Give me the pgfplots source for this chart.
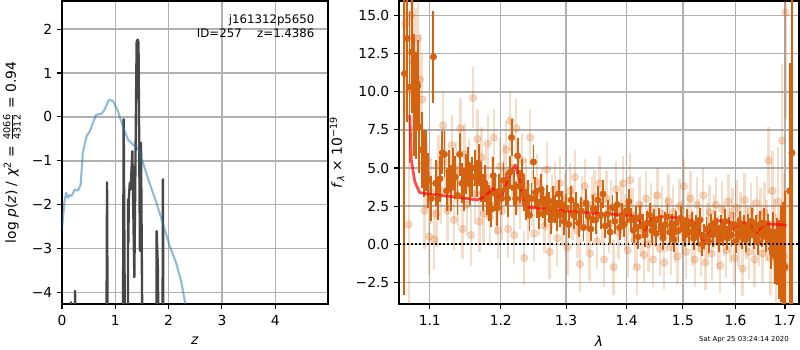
\documentclass[border=0pt]{standalone}
\usepackage{amsmath}
\usepackage{fontspec}
\setmainfont{DejaVu Sans}
\usepackage{pgfplots}
\usepackage{pgfplotstable}
\pgfplotsset{compat=1.18}
\definecolor{dorange}{HTML}{D5620F}
\definecolor{mblue}{HTML}{1F77B4}
\definecolor{gridc}{HTML}{B0B0B0}

\pgfplotstableread{
x y e
1.0664 11.2 14.5
1.0700 13.5 5.5
1.0730 10.3 5.0
1.0760 12.6 4.0
1.0790 9.8 4.0
1.0810 9.1 3.5
1.0840 10.4 3.0
1.0860 7.7 3.0
1.0890 6.2 2.5
1.0920 5.3 2.2
1.0950 5.5 2.0
1.0980 4.2 1.8
1.1020 3.0 1.5
1.1050 12.3 3.0
1.1080 4.0 1.5
1.1110 3.0 1.4
1.1140 4.3 1.5
1.1170 6.0 1.4
1.1200 5.9 1.5
1.1230 3.5 1.3
1.1260 4.8 1.4
1.1290 3.7 1.5
1.1320 5.0 1.3
1.1350 4.4 1.4
1.1380 3.2 1.3
1.1410 5.9 1.4
1.1440 4.0 1.3
1.1470 3.6 1.4
1.1500 4.6 1.3
1.1530 5.2 1.2
1.1560 3.9 1.3
1.1590 4.4 1.3
1.1620 5.0 1.2
1.1650 4.3 1.2
1.1680 5.3 1.3
1.1710 4.0 1.2
1.1740 3.4 1.2
1.1770 4.0 1.2
1.1800 3.0 1.1
1.1830 2.7 1.2
1.1860 2.3 1.2
1.1890 4.5 1.2
1.1920 3.3 1.1
1.1950 2.4 1.2
1.1980 3.5 1.1
1.2010 3.0 1.1
1.2040 4.2 1.2
1.2070 3.6 1.1
1.2100 3.0 1.2
1.2130 4.7 1.1
1.2160 7.0 1.2
1.2190 3.7 1.2
1.2220 3.0 1.1
1.2250 5.8 1.2
1.2280 3.8 1.1
1.2310 4.5 1.1
1.2340 3.3 1.1
1.2370 2.6 1.0
1.2400 3.1 1.1
1.2430 1.9 1.0
1.2460 3.0 1.0
1.2490 5.4 1.1
1.2520 3.4 1.0
1.2550 2.7 1.0
1.2580 2.0 1.0
1.2610 3.6 1.0
1.2640 2.7 1.0
1.2670 2.1 1.0
1.2700 3.0 0.9
1.2730 2.4 1.0
1.2760 1.6 0.9
1.2790 2.8 1.0
1.2820 2.3 0.9
1.2850 1.9 1.0
1.2880 3.3 0.9
1.2910 2.0 0.9
1.2940 2.6 0.9
1.2970 1.5 0.9
1.3000 2.4 0.9
1.3040 1.3 0.9
1.3080 2.9 0.9
1.3120 1.9 0.9
1.3160 2.5 0.9
1.3200 1.4 0.9
1.3240 2.2 0.9
1.3280 1.1 0.9
1.3320 2.7 0.9
1.3360 1.8 0.9
1.3400 1.0 0.8
1.3440 2.3 0.9
1.3480 1.6 0.9
1.3520 2.9 0.9
1.3560 1.9 0.9
1.3600 3.3 0.9
1.3640 1.2 0.8
1.3680 2.0 0.9
1.3720 0.8 0.8
1.3760 2.4 0.8
1.3800 1.5 0.8
1.3840 2.6 0.8
1.3880 1.1 0.8
1.3920 1.9 0.8
1.3960 1.3 0.8
1.4000 2.2 0.8
1.4040 2.8 0.8
1.4080 1.6 0.8
1.4120 0.9 0.8
1.4160 1.7 0.8
1.4200 0.5 0.8
1.4240 1.8 0.8
1.4280 1.2 0.8
1.4320 0.6 0.8
1.4360 1.4 0.8
1.4400 1.9 0.8
1.4440 0.9 0.8
1.4480 1.5 0.8
1.4520 0.7 0.8
1.4560 1.6 0.8
1.4600 1.1 0.8
1.4640 0.4 0.8
1.4680 1.3 0.8
1.4720 1.8 0.8
1.4760 0.8 0.8
1.4800 1.2 0.8
1.4840 0.3 0.8
1.4880 1.4 0.8
1.4920 0.9 0.8
1.4960 1.7 0.8
1.5000 1.0 0.8
1.5040 0.6 0.8
1.5080 1.5 0.8
1.5120 0.8 0.8
1.5160 1.3 0.8
1.5200 0.4 0.8
1.5240 1.1 0.8
1.5280 0.7 0.8
1.5320 1.6 0.8
1.5360 0.0 0.8
1.5400 0.5 0.8
1.5440 1.0 0.8
1.5480 0.2 0.8
1.5520 1.2 0.8
1.5560 0.6 0.8
1.5600 1.4 0.8
1.5640 0.9 0.8
1.5680 0.3 0.8
1.5720 1.1 0.8
1.5760 0.7 0.8
1.5800 1.5 0.8
1.5840 0.4 0.8
1.5880 1.0 0.8
1.5920 0.6 0.8
1.5960 1.3 0.8
1.6000 0.2 0.8
1.6040 0.9 0.8
1.6080 1.4 0.8
1.6120 0.5 0.8
1.6160 1.1 0.8
1.6200 0.3 0.8
1.6240 1.2 0.8
1.6280 0.8 0.9
1.6320 1.5 0.9
1.6360 0.6 0.9
1.6400 1.0 0.9
1.6440 0.2 0.9
1.6480 1.3 0.9
1.6520 0.7 0.9
1.6560 1.4 1.0
1.6600 0.5 1.0
1.6640 1.0 1.0
1.6680 0.4 1.1
1.6720 -0.3 1.3
1.6760 0.6 1.5
1.6800 -0.8 1.8
1.6840 -0.5 2.2
1.6880 -1.0 2.6
1.6920 -0.6 3.2
1.6960 -1.2 4.0
1.7000 -1.5 5.0
1.7098 3.5 8.4
1.7146 6.0 14
}\darkdata

\pgfplotstableread{
x y e
1.0680 14.5 6
1.0720 1.3 5.5
1.0750 15.0 6
1.0780 12.0 5
1.0810 11.5 4
1.0840 13.5 3.5
1.0870 10.8 3
1.0900 9.5 3
1.0930 2.2 2.5
1.0960 4.5 2.2
1.0990 0.5 2.5
1.1020 3.5 2.2
1.1060 0.3 2.0
1.1090 2.0 2.2
1.1120 5.2 2.0
1.1150 3.5 2.2
1.1180 7.8 2.2
1.1210 5.4 2.0
1.1240 2.2 2.0
1.1270 4.2 2.0
1.1300 6.5 2.0
1.1330 1.6 2.0
1.1360 4.7 2.0
1.1390 3.2 2.0
1.1420 7.6 2.0
1.1450 1.0 2.0
1.1480 5.9 2.0
1.1510 2.6 2.0
1.1540 4.9 2.0
1.1570 0.6 2.0
1.1600 9.6 2.0
1.1630 3.3 2.0
1.1660 6.9 2.0
1.1690 1.5 2.0
1.1720 5.7 2.0
1.1750 2.0 2.0
1.1780 4.4 2.0
1.1810 6.6 1.9
1.1840 1.8 1.9
1.1870 3.9 1.9
1.1900 7.0 1.9
1.1930 2.6 1.9
1.1960 0.9 1.9
1.1990 5.1 1.9
1.2020 2.2 1.9
1.2050 4.7 1.9
1.2080 6.2 1.9
1.2110 1.0 1.9
1.2140 8.1 1.9
1.2170 5.0 1.9
1.2200 0.6 1.9
1.2230 7.6 1.9
1.2260 4.0 1.8
1.2290 2.8 1.8
1.2320 5.5 1.8
1.2350 -0.9 1.8
1.2380 3.8 1.8
1.2410 2.0 1.8
1.2440 7.0 1.8
1.2470 3.0 1.8
1.2500 0.7 1.8
1.2540 4.1 1.8
1.2580 2.4 1.8
1.2620 3.3 1.8
1.2660 1.2 1.8
1.2700 4.9 1.8
1.2740 -0.5 1.8
1.2780 2.8 1.8
1.2820 3.6 1.8
1.2860 0.4 1.8
1.2900 4.0 1.8
1.2940 1.7 1.8
1.2980 2.9 1.8
1.3020 -0.2 1.8
1.3060 3.5 1.8
1.3100 2.1 1.8
1.3140 4.4 1.8
1.3180 0.9 1.8
1.3220 -1.3 1.8
1.3260 2.7 1.8
1.3300 3.8 1.8
1.3340 1.4 1.8
1.3380 -0.6 1.8
1.3420 2.6 1.8
1.3460 3.1 1.8
1.3500 0.2 1.8
1.3540 4.0 1.8
1.3580 1.9 1.8
1.3620 -1.0 1.8
1.3660 3.0 1.8
1.3700 1.2 1.8
1.3740 2.4 1.8
1.3780 -1.5 1.8
1.3820 3.6 1.8
1.3860 0.8 1.8
1.3900 2.3 1.8
1.3940 4.0 1.8
1.3980 1.5 1.8
1.4020 -0.4 1.8
1.4060 4.2 1.8
1.4100 1.9 1.8
1.4140 0.3 1.8
1.4180 -1.5 1.8
1.4220 2.6 1.8
1.4260 1.0 1.8
1.4300 -0.7 1.8
1.4340 3.0 1.8
1.4380 0.0 1.8
1.4420 2.2 1.8
1.4460 -1.0 1.8
1.4500 1.6 1.8
1.4540 3.2 1.8
1.4580 -0.3 1.8
1.4620 2.0 1.8
1.4660 -1.2 1.8
1.4700 1.3 1.8
1.4740 2.8 1.8
1.4780 -0.2 1.8
1.4820 2.1 1.8
1.4860 0.6 1.8
1.4900 -0.8 1.8
1.4940 2.5 1.8
1.4980 1.1 1.8
1.5020 3.8 1.8
1.5060 -0.5 1.8
1.5100 1.7 1.8
1.5140 3.0 1.8
1.5180 0.4 1.8
1.5220 -1.0 1.8
1.5260 2.6 1.8
1.5300 1.2 1.8
1.5340 -0.3 1.8
1.5380 3.2 1.8
1.5420 -1.2 1.8
1.5460 0.9 1.8
1.5500 2.1 1.8
1.5540 -0.6 1.8
1.5580 1.5 1.8
1.5620 2.6 1.8
1.5660 0.1 1.8
1.5700 -1.4 1.8
1.5740 2.3 1.8
1.5780 1.0 1.8
1.5820 -0.4 1.8
1.5860 2.8 1.8
1.5900 0.6 1.8
1.5940 1.9 1.8
1.5980 -0.9 1.8
1.6020 2.4 1.8
1.6060 0.3 1.8
1.6100 1.6 1.8
1.6140 -1.6 1.8
1.6180 2.9 1.8
1.6220 0.8 1.8
1.6260 -0.5 1.8
1.6300 2.2 1.8
1.6340 1.1 1.8
1.6380 -1.0 1.8
1.6420 2.7 1.8
1.6460 0.4 1.8
1.6500 1.8 1.9
1.6540 -0.6 1.9
1.6580 2.1 2.0
1.6620 0.9 2.0
1.6660 5.5 2.2
1.6700 -0.9 2.4
1.6740 3.5 2.6
1.6780 0.2 2.8
1.6820 -1.2 3.2
1.6860 2.8 3.6
1.6900 -2.0 4.2
1.6940 6.8 5.0
1.6980 -0.8 5.5
1.7010 15.2 7
1.7040 -1.5 5
}\lightdata

\pgfplotsset{
  every tick label/.append style={font=\fontsize{10}{12}\selectfont},
  every axis label/.append style={font=\fontsize{10}{12}\selectfont},
  myaxis/.style={
    scale only axis,
    grid=major,
    major grid style={color=gridc, line width=1pt},
    axis line style={line width=0.8pt},
    every tick/.style={black, line width=0.8pt},
    tick align=outside,
    major tick length=3.5pt,
    xtick pos=bottom, ytick pos=left,
    xticklabel style={yshift=-1pt},
  },
}

\begin{document}
\begin{tikzpicture}
\path[use as bounding box] (0,0) rectangle (8in,3.5in);

% Left panel
\begin{axis}[myaxis,
  at={(0.62in,0.46in)}, anchor=south west,
  width=2.66in, height=3.03in,
  xmin=0, xmax=4.99, ymin=-4.26, ymax=2.64,
  xtick={0,1,2,3,4},
  xticklabels={0,1,2,3,4},
  ytick={-4,-3,-2,-1,0,1,2},
  yticklabels={−4,−3,−2,−1,0,1,2},
  xlabel={\textit{z}},
  xlabel style={at={(axis description cs:0.5,-0.122)}, anchor=center},
  ylabel={log \textit{p}(\textit{z}) / \textit{χ}\textsuperscript{2} = $\frac{\text{4066}}{\text{4312}}$ = 0.94},
  ylabel style={at={(axis description cs:-0.188,0.5)}, anchor=center, rotate=0},
]
\addplot[color=black!72, line width=1.7pt, line join=round] coordinates {
(0.00,-8) (0.155,-8) (0.17,-4.22) (0.185,-8)
(0.23,-8) (0.245,-3.96) (0.26,-8)
(0.825,-8) (0.845,-1.49) (0.865,-8)
(1.135,-8) (1.157,-0.05) (1.195,-8)
(1.232,-8) (1.240,-1.88) (1.246,-2.86) (1.252,-1.90) (1.272,-1.50) (1.287,-1.65) (1.320,-0.78)
(1.357,-3.65) (1.400,1.70) (1.420,1.76) (1.435,1.70) (1.462,-3.05) (1.482,-0.59) (1.525,-8)
(1.765,-8) (1.775,-2.60) (1.800,-3.47) (1.820,-8)
(1.880,-8) (1.893,-1.42) (1.910,-8) (5.0,-8)
};
\addplot[color=mblue, opacity=0.5, line width=1.5pt, line join=round] coordinates {
(0.00,-2.56) (0.05,-1.88) (0.08,-1.73) (0.11,-1.84) (0.14,-1.78) (0.18,-1.80)
(0.24,-1.65) (0.30,-1.68) (0.35,-1.54) (0.39,-0.82) (0.46,-0.44) (0.52,-0.33)
(0.58,-0.14) (0.64,0.05) (0.74,0.07) (0.80,0.17) (0.88,0.39) (0.96,0.36)
(1.05,0.13) (1.14,-0.21) (1.24,-0.52) (1.33,-0.63) (1.42,-0.70) (1.52,-1.05)
(1.64,-1.50) (1.77,-1.95) (1.89,-2.41) (2.02,-2.94) (2.14,-3.32) (2.24,-3.77)
(2.31,-4.24) (2.45,-5.0)
};
\node[anchor=north east, align=right, font=\fontsize{8.5}{10}\selectfont, inner sep=0pt]
  at (rel axis cs:0.95,0.955) {j161312p5650\\ID=257\quad\ z=1.4386};
\end{axis}

% Right panel
\begin{axis}[myaxis,
  at={(3.99in,0.46in)}, anchor=south west,
  width=4.00in, height=3.03in,
  xmode=log,
  xmin=1.0593, xmax=1.7294, ymin=-3.92, ymax=15.96,
  xtick={1.1,1.2,1.3,1.4,1.5,1.6,1.7},
  xticklabels={1.1,1.2,1.3,1.4,1.5,1.6,1.7},
  ytick={-2.5,0,2.5,5,7.5,10,12.5,15},
  yticklabels={−2.5,0.0,2.5,5.0,7.5,10.0,12.5,15.0},
  minor xtick={},
  xlabel={\textit{λ}},
  xlabel style={at={(axis description cs:0.5,-0.122)}, anchor=center},
  ylabel={\textit{f}\textsubscript{\textit{λ}} × 10\textsuperscript{−19}},
  ylabel style={at={(axis description cs:-0.155,0.5)}, anchor=center},
]
\addplot[color=dorange, only marks, mark=*, mark size=2.7pt,
  mark options={draw=dorange, fill=dorange, opacity=0.25},
  error bars/.cd, y dir=both, y explicit,
  error mark=none,
  error bar style={line width=1.7pt, color=dorange, opacity=0.22}]
  table[x=x, y=y, y error=e] {\lightdata};
\addplot[color=dorange, only marks, mark=*, mark size=2.3pt,
  mark options={draw=dorange, fill=dorange},
  error bars/.cd, y dir=both, y explicit,
  error mark=none,
  error bar style={line width=1.4pt, color=dorange}]
  table[x=x, y=y, y error=e] {\darkdata};
\addplot[color=red, opacity=0.7, line width=2pt, line join=round] coordinates {
(1.0733,8.48) (1.0754,5.53) (1.0800,4.11) (1.0865,3.39) (1.1000,3.28)
(1.1320,3.12) (1.1656,2.91) (1.1770,3.12) (1.1880,3.67) (1.1930,3.34)
(1.1980,3.06) (1.2020,3.24) (1.2093,4.22) (1.2166,4.88) (1.2215,5.20)
(1.2265,4.44) (1.2340,2.69) (1.2415,2.43) (1.2690,2.30) (1.3216,2.10)
(1.3770,1.97) (1.4114,1.86) (1.4232,1.48) (1.4317,0.94) (1.4375,1.38)
(1.4460,1.70) (1.4645,1.80) (1.5010,1.70) (1.5194,1.48) (1.5318,0.72)
(1.5380,0.02) (1.5445,0.61) (1.5535,1.27) (1.5690,1.55) (1.5885,1.48)
(1.5980,0.98) (1.6050,1.27) (1.6180,1.42) (1.6320,1.16) (1.6400,0.68)
(1.6480,0.98) (1.6587,1.33) (1.6820,1.31) (1.7030,1.25)
};
\addplot[black, line width=1.2pt, dash pattern=on 1.2pt off 1.7pt] coordinates {(1.0593,0) (1.7294,0)};
\end{axis}

\node[anchor=east, font=\fontsize{5}{6}\selectfont, inner sep=0pt] at (7.89in,0.10in) {Sat Apr 25 03:24:14 2020};
\end{tikzpicture}
\end{document}
